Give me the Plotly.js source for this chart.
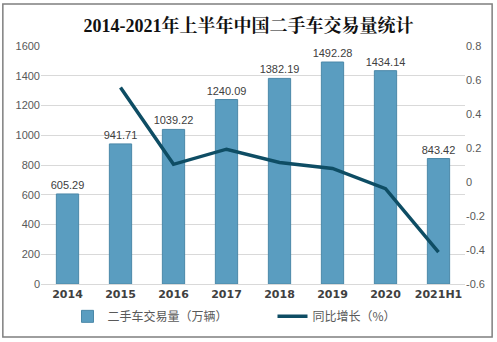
<!DOCTYPE html>
<html><head><meta charset="utf-8">
<script src="https://cdn.plot.ly/plotly-3.0.1.min.js"></script>
<style>body{margin:0;padding:0;background:#fff}#chart{width:497px;height:342px}</style>
</head><body><div id="chart"></div>
<script>
const categories = ['2014','2015','2016','2017','2018','2019','2020','2021H1'];
const volume = [605.29, 941.71, 1039.22, 1240.09, 1382.19, 1492.28, 1434.14, 843.42];
const growthCats = ['2015','2016','2017','2018','2019','2020','2021H1'];
const growth = [0.556, 0.104, 0.193, 0.115, 0.080, -0.039, -0.412];
const barName = '二手车交易量（万辆）';
const lineName = '同比增长（%）';
const titleText = '2014-2021年上半年中国二手车交易量统计';

const cjk = '"Microsoft YaHei","Noto Sans CJK SC",sans-serif';
const data = [
  {type:'bar', x:categories, y:volume, name:barName,
   marker:{color:'#5a9dc0', line:{color:'#4b88a8', width:1}},
   text:volume.map(v=>v.toFixed(2)), textposition:'outside', cliponaxis:false, constraintext:'none',
   textfont:{size:11, color:'#404040', family:'"Liberation Sans",Arial,sans-serif'},
   width:0.42},
  {type:'scatter', mode:'lines', x:growthCats, y:growth, name:lineName, yaxis:'y2',
   line:{color:'#0e4d64', width:3.5}}
];
const layout = {
  width:497, height:342,
  margin:{l:41, r:32, t:46, b:58, autoexpand:false},
  paper_bgcolor:'#fff', plot_bgcolor:'#fff',
  title:{text:'<b>'+titleText+'</b>', x:0.5, xanchor:'center', y:0.925, yanchor:'middle',
    font:{family:'"Liberation Serif","Noto Serif CJK SC","Noto Sans CJK SC",serif', size:18, color:'#111'}},
  xaxis:{type:'category', tickfont:{size:11, color:'#404040', family:'"DejaVu Sans",Arial,sans-serif', weight:'bold'},
    showline:true, linecolor:'#d9d9d9', linewidth:1, ticks:'', showgrid:false},
  yaxis:{range:[0,1600], dtick:200, tickfont:{size:11, color:'#595959', family:'"Liberation Sans",Arial,sans-serif'},
    gridcolor:'#d9d9d9', gridwidth:1, zeroline:false, ticks:''},
  yaxis2:{overlaying:'y', side:'right', range:[-0.6,0.8], dtick:0.2,
    tickvals:[-0.6,-0.4,-0.2,0,0.2,0.4,0.6,0.8], ticktext:['-0.6','-0.4','-0.2','0','0.2','0.4','0.6','0.8'],
    tickfont:{size:11, color:'#595959', family:'"Liberation Sans",Arial,sans-serif'},
    showgrid:false, zeroline:false, ticks:''},
  legend:{orientation:'h', xref:'container', yref:'container', x:0.5, xanchor:'center', y:0.075, yanchor:'middle',
    font:{size:12, color:'#595959', family:cjk}, entrywidth:160, itemwidth:30,
    traceorder:'normal', bgcolor:'rgba(0,0,0,0)'},
  showlegend:true,
  bargap:0.58,
  shapes:[{type:'rect', xref:'paper', yref:'paper', x0:-0.090, x1:1.064, y0:-0.223, y1:1.176,
    line:{color:'#7f7f7f', width:1.5}, fillcolor:'rgba(0,0,0,0)'}]
};
Plotly.newPlot('chart', data, layout, {displayModeBar:false, staticPlot:true}).then(gd => {
  // nudge legend horizontally toward reference position, keeping single row
  const lg = gd.querySelector('.legend');
  if (lg) {
    const t = lg.getAttribute('transform') || '';
    const m = t.match(/translate\(([-\d.]+),\s*([-\d.]+)\)/);
    if (m) lg.setAttribute('transform', 'translate(' + (parseFloat(m[1]) + 24) + ',' + m[2] + ')');
  }
});
</script></body></html>
